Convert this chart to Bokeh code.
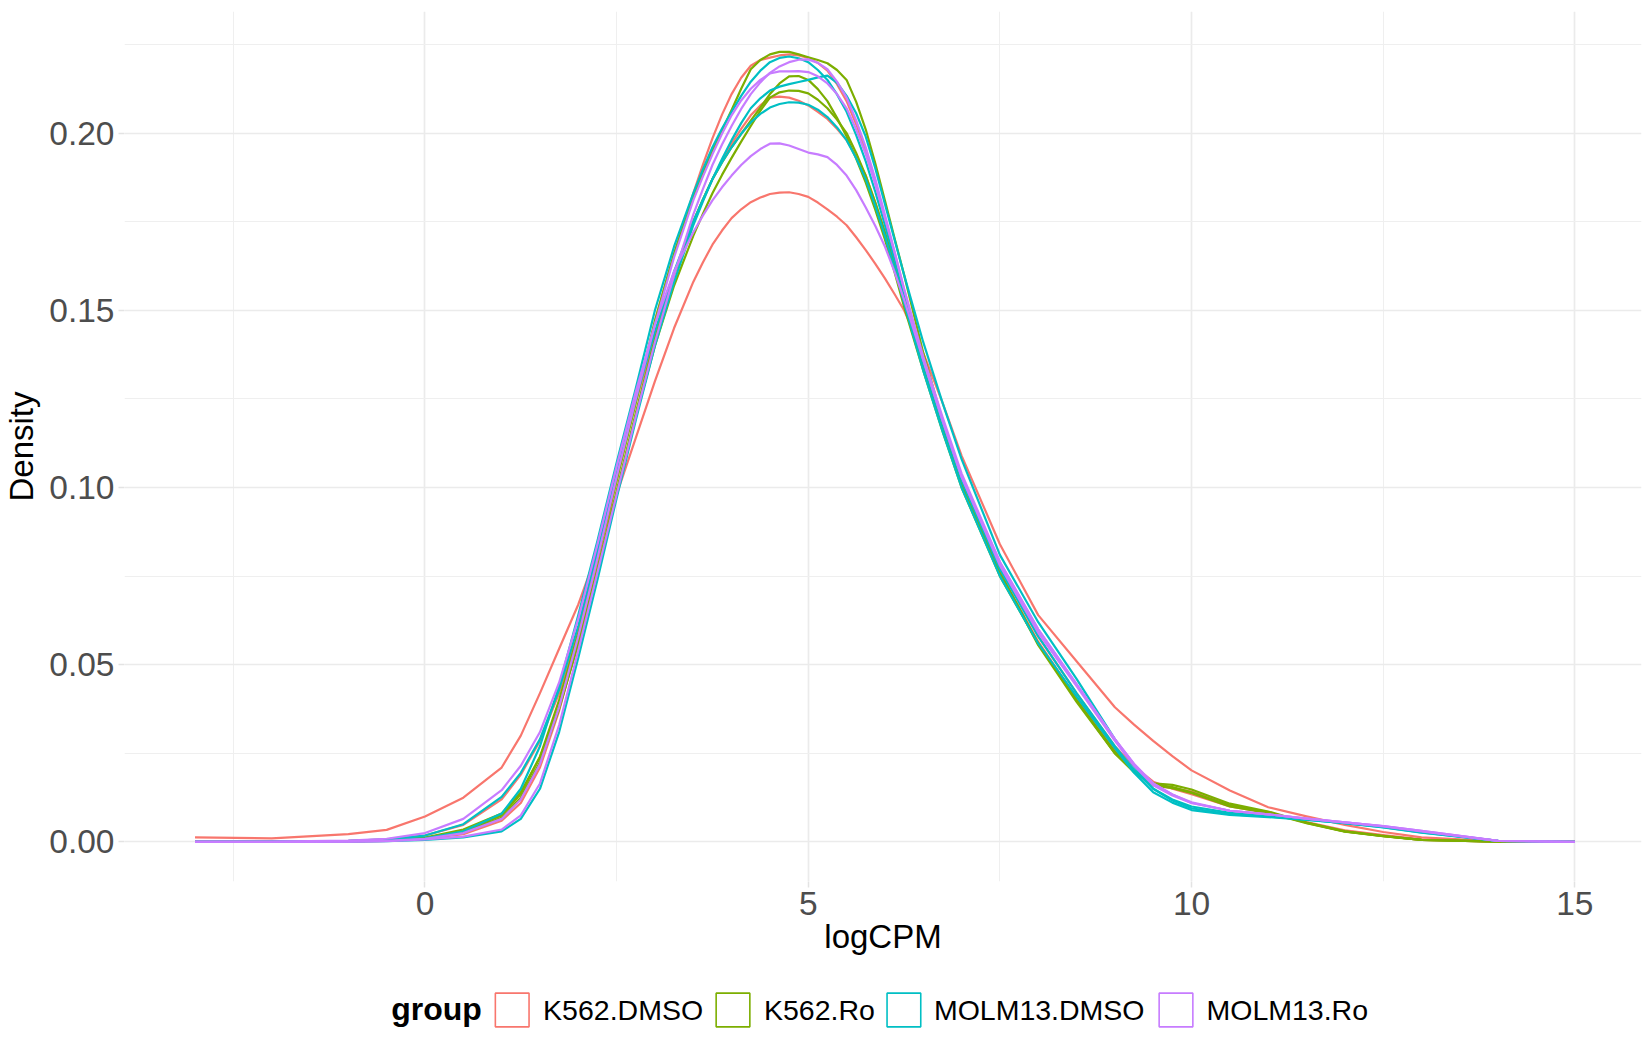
from bokeh.plotting import figure
from bokeh.models import Range1d, FixedTicker, PrintfTickFormatter
from bokeh.layouts import column
from bokeh.embed import file_html
from bokeh.resources import INLINE
from bokeh.core.properties import value

# ---------------- data ----------------
x_grid = [-3.0, -2.0, -1.0, -0.5, 0.0, 0.5,
          1.0, 1.25, 1.5, 1.75, 2.0, 2.25, 2.5, 2.75, 3.0, 3.25, 3.5,
          3.625, 3.75, 3.875, 4.0, 4.125, 4.25, 4.375, 4.5, 4.625, 4.75, 4.875,
          5.0, 5.125, 5.25, 5.375, 5.5, 5.625, 5.75, 5.875, 6.0, 6.125, 6.25,
          6.5, 6.75, 7.0, 7.5, 8.0, 8.5, 9.0, 9.25, 9.5, 9.75, 10.0,
          10.5, 11.0, 11.5, 12.0, 12.5, 13.0, 14.0, 15.0]

groups = ["K562.DMSO", "K562.Ro", "MOLM13.DMSO", "MOLM13.Ro"]
group_colors = ["#F8766D", "#7CAE00", "#00BFC4", "#C77CFF"]

k562_dmso_1 = [0.0000, 0.0000, 0.0001, 0.0003, 0.0009, 0.0022,
               0.0060, 0.0110, 0.0210, 0.0370, 0.0570, 0.0790, 0.1020, 0.1250, 0.1470, 0.1660, 0.1830,
               0.1910, 0.1985, 0.2052, 0.2110, 0.2156, 0.2190, 0.2206, 0.2213, 0.2219, 0.2222, 0.2219,
               0.2212, 0.2198, 0.2176, 0.2138, 0.2090, 0.2025, 0.1950, 0.1860, 0.1760, 0.1657, 0.1550,
               0.1360, 0.1190, 0.1030, 0.0780, 0.0580, 0.0420, 0.0270, 0.0213, 0.0170, 0.0150, 0.0135,
               0.0100, 0.0082, 0.0056, 0.0033, 0.0019, 0.0007, 0.0001, 0.0000]
k562_dmso_2 = [0.0001, 0.0001, 0.0003, 0.0007, 0.0018, 0.0048,
               0.0120, 0.0190, 0.0285, 0.0420, 0.0600, 0.0810, 0.1030, 0.1240, 0.1430, 0.1600, 0.1750,
               0.1811, 0.1870, 0.1921, 0.1970, 0.2012, 0.2050, 0.2078, 0.2100, 0.2103, 0.2100, 0.2091,
               0.2078, 0.2060, 0.2040, 0.2012, 0.1980, 0.1933, 0.1880, 0.1803, 0.1720, 0.1627, 0.1530,
               0.1340, 0.1170, 0.1010, 0.0760, 0.0565, 0.0405, 0.0260, 0.0203, 0.0160, 0.0152, 0.0142,
               0.0104, 0.0084, 0.0055, 0.0031, 0.0017, 0.0006, 0.0001, 0.0000]
k562_dmso_3 = [0.0013, 0.0010, 0.0022, 0.0034, 0.0072, 0.0125,
               0.0210, 0.0300, 0.0420, 0.0545, 0.0670, 0.0820, 0.0980, 0.1140, 0.1300, 0.1450, 0.1580,
               0.1635, 0.1685, 0.1725, 0.1760, 0.1785, 0.1805, 0.1818, 0.1828, 0.1832, 0.1833, 0.1828,
               0.1820, 0.1804, 0.1785, 0.1764, 0.1740, 0.1706, 0.1670, 0.1631, 0.1590, 0.1546, 0.1500,
               0.1380, 0.1240, 0.1090, 0.0840, 0.0640, 0.0510, 0.0380, 0.0331, 0.0285, 0.0242, 0.0202,
               0.0145, 0.0098, 0.0072, 0.0048, 0.0028, 0.0013, 0.0002, 0.0000]
k562_ro_1 = [0.0001, 0.0001, 0.0002, 0.0004, 0.0011, 0.0030,
             0.0075, 0.0135, 0.0240, 0.0400, 0.0590, 0.0800, 0.1020, 0.1240, 0.1470, 0.1660, 0.1820,
             0.1886, 0.1950, 0.2008, 0.2065, 0.2125, 0.2180, 0.2206, 0.2222, 0.2229, 0.2229, 0.2222,
             0.2214, 0.2206, 0.2197, 0.2178, 0.2150, 0.2088, 0.2010, 0.1914, 0.1810, 0.1704, 0.1600,
             0.1380, 0.1190, 0.1020, 0.0760, 0.0560, 0.0400, 0.0255, 0.0201, 0.0165, 0.0161, 0.0148,
             0.0108, 0.0086, 0.0055, 0.0030, 0.0016, 0.0006, 0.0001, 0.0000]
k562_ro_2 = [0.0001, 0.0001, 0.0002, 0.0004, 0.0010, 0.0028,
             0.0068, 0.0125, 0.0225, 0.0375, 0.0560, 0.0770, 0.0990, 0.1210, 0.1420, 0.1600, 0.1750,
             0.1812, 0.1870, 0.1917, 0.1960, 0.1998, 0.2035, 0.2072, 0.2110, 0.2140, 0.2160, 0.2161,
             0.2150, 0.2124, 0.2090, 0.2043, 0.1990, 0.1928, 0.1860, 0.1783, 0.1700, 0.1608, 0.1510,
             0.1330, 0.1160, 0.1000, 0.0750, 0.0560, 0.0400, 0.0250, 0.0198, 0.0163, 0.0155, 0.0140,
             0.0103, 0.0083, 0.0054, 0.0030, 0.0017, 0.0006, 0.0001, 0.0000]
k562_ro_3 = [0.0001, 0.0001, 0.0002, 0.0004, 0.0012, 0.0035,
             0.0080, 0.0140, 0.0240, 0.0380, 0.0560, 0.0765, 0.0980, 0.1200, 0.1400, 0.1570, 0.1710,
             0.1772, 0.1830, 0.1882, 0.1930, 0.1976, 0.2020, 0.2063, 0.2100, 0.2115, 0.2120, 0.2119,
             0.2112, 0.2094, 0.2070, 0.2038, 0.2000, 0.1944, 0.1880, 0.1804, 0.1720, 0.1628, 0.1530,
             0.1350, 0.1170, 0.1010, 0.0760, 0.0555, 0.0395, 0.0250, 0.0197, 0.0160, 0.0152, 0.0138,
             0.0100, 0.0082, 0.0053, 0.0029, 0.0016, 0.0006, 0.0001, 0.0000]
molm13_dmso_1 = [0.0000, 0.0001, 0.0002, 0.0004, 0.0010, 0.0030,
                 0.0080, 0.0150, 0.0270, 0.0440, 0.0640, 0.0850, 0.1070, 0.1280, 0.1500, 0.1680, 0.1830,
                 0.1897, 0.1960, 0.2013, 0.2060, 0.2105, 0.2145, 0.2176, 0.2200, 0.2212, 0.2216, 0.2211,
                 0.2200, 0.2178, 0.2150, 0.2109, 0.2060, 0.1994, 0.1920, 0.1834, 0.1740, 0.1643, 0.1540,
                 0.1350, 0.1180, 0.1020, 0.0770, 0.0580, 0.0420, 0.0270, 0.0203, 0.0150, 0.0120, 0.0100,
                 0.0082, 0.0074, 0.0064, 0.0053, 0.0041, 0.0026, 0.0003, 0.0000]
molm13_dmso_2 = [0.0000, 0.0000, 0.0001, 0.0002, 0.0006, 0.0013,
                 0.0030, 0.0065, 0.0150, 0.0310, 0.0520, 0.0740, 0.0970, 0.1190, 0.1400, 0.1580, 0.1740,
                 0.1807, 0.1870, 0.1927, 0.1980, 0.2028, 0.2070, 0.2098, 0.2120, 0.2131, 0.2138, 0.2144,
                 0.2150, 0.2157, 0.2162, 0.2142, 0.2105, 0.2056, 0.1990, 0.1900, 0.1800, 0.1700, 0.1600,
                 0.1410, 0.1240, 0.1080, 0.0810, 0.0620, 0.0460, 0.0290, 0.0213, 0.0150, 0.0117, 0.0095,
                 0.0078, 0.0072, 0.0063, 0.0053, 0.0042, 0.0027, 0.0003, 0.0000]
molm13_dmso_3 = [0.0001, 0.0001, 0.0003, 0.0007, 0.0018, 0.0050,
                 0.0127, 0.0195, 0.0290, 0.0430, 0.0610, 0.0820, 0.1040, 0.1250, 0.1440, 0.1610, 0.1750,
                 0.1812, 0.1870, 0.1918, 0.1960, 0.1998, 0.2030, 0.2054, 0.2072, 0.2082, 0.2087, 0.2086,
                 0.2080, 0.2066, 0.2045, 0.2016, 0.1980, 0.1929, 0.1870, 0.1794, 0.1710, 0.1618, 0.1520,
                 0.1330, 0.1160, 0.1000, 0.0750, 0.0560, 0.0410, 0.0265, 0.0195, 0.0140, 0.0111, 0.0090,
                 0.0076, 0.0070, 0.0062, 0.0053, 0.0043, 0.0028, 0.0003, 0.0000]
molm13_ro_1 = [0.0000, 0.0000, 0.0001, 0.0002, 0.0007, 0.0015,
               0.0035, 0.0075, 0.0165, 0.0330, 0.0540, 0.0760, 0.0980, 0.1200, 0.1410, 0.1600, 0.1770,
               0.1842, 0.1910, 0.1968, 0.2020, 0.2068, 0.2110, 0.2143, 0.2170, 0.2188, 0.2200, 0.2207,
               0.2208, 0.2198, 0.2180, 0.2145, 0.2100, 0.2036, 0.1960, 0.1870, 0.1770, 0.1667, 0.1560,
               0.1360, 0.1190, 0.1030, 0.0780, 0.0590, 0.0440, 0.0285, 0.0215, 0.0160, 0.0131, 0.0110,
               0.0088, 0.0078, 0.0066, 0.0055, 0.0044, 0.0030, 0.0003, 0.0000]
molm13_ro_2 = [0.0000, 0.0000, 0.0001, 0.0003, 0.0009, 0.0025,
               0.0065, 0.0120, 0.0220, 0.0380, 0.0580, 0.0800, 0.1030, 0.1250, 0.1460, 0.1650, 0.1810,
               0.1877, 0.1940, 0.1998, 0.2050, 0.2092, 0.2125, 0.2150, 0.2168, 0.2174, 0.2174, 0.2175,
               0.2172, 0.2160, 0.2140, 0.2110, 0.2070, 0.2010, 0.1940, 0.1855, 0.1760, 0.1663, 0.1560,
               0.1370, 0.1200, 0.1040, 0.0790, 0.0600, 0.0445, 0.0290, 0.0220, 0.0165, 0.0134, 0.0112,
               0.0088, 0.0078, 0.0066, 0.0055, 0.0045, 0.0031, 0.0003, 0.0000]
molm13_ro_3 = [0.0001, 0.0001, 0.0004, 0.0009, 0.0025, 0.0065,
               0.0146, 0.0215, 0.0310, 0.0450, 0.0630, 0.0840, 0.1060, 0.1270, 0.1460, 0.1610, 0.1720,
               0.1767, 0.1810, 0.1847, 0.1880, 0.1910, 0.1935, 0.1955, 0.1970, 0.1971, 0.1965, 0.1955,
               0.1945, 0.1940, 0.1932, 0.1910, 0.1880, 0.1839, 0.1790, 0.1738, 0.1680, 0.1609, 0.1530,
               0.1360, 0.1190, 0.1030, 0.0790, 0.0600, 0.0445, 0.0290, 0.0220, 0.0165, 0.0134, 0.0110,
               0.0088, 0.0078, 0.0066, 0.0055, 0.0045, 0.0031, 0.0003, 0.0000]

samples = [
    (k562_dmso_1, "K562.DMSO"), (k562_dmso_2, "K562.DMSO"), (k562_dmso_3, "K562.DMSO"),
    (k562_ro_1, "K562.Ro"), (k562_ro_2, "K562.Ro"), (k562_ro_3, "K562.Ro"),
    (molm13_dmso_1, "MOLM13.DMSO"), (molm13_dmso_2, "MOLM13.DMSO"), (molm13_dmso_3, "MOLM13.DMSO"),
    (molm13_ro_1, "MOLM13.Ro"), (molm13_ro_2, "MOLM13.Ro"), (molm13_ro_3, "MOLM13.Ro"),
]

x_ticks = [0, 5, 10, 15]
x_minor = [-2.5, 2.5, 7.5, 12.5]
y_ticks = [0.0, 0.05, 0.10, 0.15, 0.20]
y_minor = [0.025, 0.075, 0.125, 0.175, 0.225]

FONT = "Liberation Sans"
color_of = dict(zip(groups, group_colors))

W = 1650
BL, BR = 124, 9

# ---------------- main plot ----------------
p = figure(width=W, height=970,
           x_range=Range1d(-3.92, 15.87), y_range=Range1d(-0.01116, 0.2343),
           output_backend="svg", toolbar_location=None,
           min_border_left=BL, min_border_right=BR, min_border_top=11, min_border_bottom=89)
p.outline_line_color = None
p.background_fill_color = "white"
p.border_fill_color = "white"

for vals, g in samples:
    assert len(vals) == len(x_grid)
    p.line(x_grid, vals, line_color=color_of[g], line_width=2.2, line_join="round")

p.xaxis.ticker = FixedTicker(ticks=x_ticks, minor_ticks=x_minor)
p.yaxis.ticker = FixedTicker(ticks=y_ticks, minor_ticks=y_minor)
p.xaxis.formatter = PrintfTickFormatter(format="%d")
p.yaxis.formatter = PrintfTickFormatter(format="%.2f")
p.xaxis.axis_label = "logCPM"
p.yaxis.axis_label = "Density"

for ax in p.axis:
    ax.axis_line_color = None
    ax.major_tick_line_color = "#E3E3E3"
    ax.major_tick_line_width = 1.5
    ax.major_tick_out = 6
    ax.major_tick_in = 0
    ax.minor_tick_line_color = None
    ax.major_label_text_font = FONT
    ax.major_label_text_font_size = "33.5px"
    ax.major_label_text_color = "#4D4D4D"
    ax.axis_label_text_font = FONT
    ax.axis_label_text_font_size = "33px"
    ax.axis_label_text_font_style = "normal"
    ax.axis_label_text_color = "black"

p.xaxis.major_label_standoff = 4
p.xaxis.axis_label_standoff = 0
p.yaxis.major_label_standoff = 4
p.yaxis.axis_label_standoff = 6

for gr in p.grid:
    gr.grid_line_color = "#EBEBEB"
    gr.grid_line_width = 1.7
    gr.minor_grid_line_color = "#EFEFEF"
    gr.minor_grid_line_width = 1.0

# ---------------- legend strip ----------------
lg = figure(width=W, height=80, x_range=Range1d(BL, W - BR), y_range=Range1d(80, 0),
            output_backend="svg", toolbar_location=None,
            min_border_left=BL, min_border_right=BR, min_border_top=0, min_border_bottom=0,
            x_axis_location=None, y_axis_location=None)
lg.grid.visible = False
lg.outline_line_color = None
lg.background_fill_color = "white"
lg.border_fill_color = "white"

key_x = [511.7, 732.5, 903.4, 1175.5]
label_x = [542.6, 763.5, 933.4, 1206.0]

lg.text(x=[390.7], y=[38], text=["group"], text_font=value(FONT), text_font_size="32px",
        text_font_style="bold", text_baseline="middle", text_align="left", text_color="black")
lg.rect(x=key_x, y=[39.5] * 4, width=33.7, height=33.7, fill_color=None,
        line_color=group_colors, line_width=1.6)
lg.text(x=label_x, y=[39] * 4, text=groups, text_font=value(FONT), text_font_size="28.5px",
        text_baseline="middle", text_align="left", text_color="black")

layout = column(p, lg)
open("out.html", "w").write(file_html(layout, INLINE))
